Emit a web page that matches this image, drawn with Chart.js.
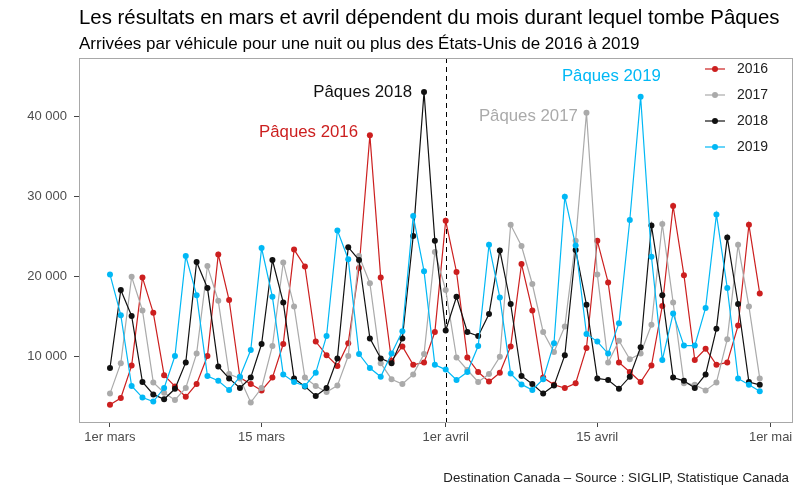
<!DOCTYPE html>
<html lang="fr">
<head>
<meta charset="utf-8">
<script src="https://cdn.jsdelivr.net/npm/chart.js@4.4.1/dist/chart.umd.min.js"></script>
<style>
  html, body { margin: 0; padding: 0; background: #fff; }
</style>
</head>
<body>
<canvas id="graphique" width="800" height="494"></canvas>
<script>
// Arrivées par véhicule, 1er mars au 30 avril (un point par jour)
const joursLabels = ['1er mars', '15 mars', '1er avril', '15 avril', '1er mai'];
const joursTicks = [0, 14, 31, 45, 61];   // jours depuis le 1er mars
const valeursTicks = [10000, 20000, 30000, 40000];

const serie2016 = [3900, 4750, 8800, 19800, 15400, 7600, 6200, 4900, 6500, 10000,
  22700, 17000, 7300, 6500, 5700, 7300, 11500, 23300, 21200, 11800,
  10100, 8750, 11600, 21000, 37600, 19800, 9400, 11200, 8900, 9200,
  13000, 26900, 20500, 9800, 8000, 6800, 7900, 11200, 21500, 15700,
  7300, 6400, 6000, 6600, 11000, 24400, 19200, 9200, 8000, 6750,
  8800, 16250, 28750, 20100, 9500, 10900, 8900, 9200, 13800, 26400, 17800];

const serie2017 = [5300, 9100, 19900, 15700, 6700, 5400, 4500, 6000, 10300, 21250,
  16900, 7750, 7200, 4200, 6000, 11250, 21700, 16200, 7300, 6250,
  5500, 6300, 10000, 22500, 19100, 9100, 7100, 6500, 7700, 10250,
  23000, 18250, 9800, 8250, 6750, 7750, 9900, 26400, 23750, 19000,
  13000, 10500, 13700, 24400, 40400, 20200, 9200, 11900, 9600, 10300,
  13900, 26500, 16700, 6600, 6400, 5700, 6700, 12100, 23900, 16200, 7200];

const serie2018 = [8500, 18250, 15000, 6750, 5200, 4600, 5900, 9200, 21750, 18500,
  8700, 7200, 6000, 7300, 11500, 22000, 16700, 7200, 6200, 5000,
  6000, 9700, 23600, 22000, 12200, 9700, 9100, 12200, 25000, 43000,
  24400, 13200, 17400, 13000, 12500, 15250, 23200, 16500, 7500, 6500,
  5300, 6300, 10100, 23250, 16400, 7200, 7000, 5900, 7400, 11100,
  26300, 17600, 7300, 6900, 6000, 7700, 13400, 24800, 16500, 6750, 6400];

const serie2019 = [20200, 15100, 6250, 4800, 4300, 6000, 10000, 22500, 17600, 7500,
  6900, 5750, 7400, 10750, 23500, 17400, 7700, 6750, 6250, 7900,
  12500, 25700, 22100, 10250, 8500, 7400, 10300, 13100, 27500, 20600,
  8900, 8300, 7000, 8000, 11250, 23900, 17300, 7800, 6450, 5750,
  7100, 11600, 29900, 23800, 12750, 11800, 10300, 14100, 27000, 42400,
  22400, 9500, 15300, 11300, 11300, 16000, 27700, 18500, 7200, 6400, 5600];

const annees = ['2016', '2017', '2018', '2019'];
const couleurs = ['#cc1f1f', '#aaaaaa', '#111111', '#00b8f5'];

// Étiquettes « Pâques » : [jour, valeur, alignement]
const paques = [
  { texte: 'Pâques 2016', jour: 22.9, valeur: 38000, align: 'right', couleur: couleurs[0] },
  { texte: 'Pâques 2017', jour: 43.2, valeur: 40000, align: 'right', couleur: couleurs[1] },
  { texte: 'Pâques 2018', jour: 27.9, valeur: 43000, align: 'right', couleur: couleurs[2] },
  { texte: 'Pâques 2019', jour: 46.3, valeur: 45000, align: 'center', couleur: couleurs[3] }
];
const jourPaquesLigne = 31;

const police = '"Liberation Sans", Arial, sans-serif';

function versPoints(serie) {
  return serie.map((v, i) => ({ x: i, y: v }));
}

function formatMilliers(v) {
  return String(v).replace(/\B(?=(\d{3})+(?!\d))/g, ' ');
}

const habillage = {
  id: 'habillage',
  beforeDatasetsDraw(chart) {
    const { ctx, chartArea, scales } = chart;
    const x = Math.round(scales.x.getPixelForValue(jourPaquesLigne)) + 0.5;
    ctx.save();
    ctx.strokeStyle = '#000';
    ctx.lineWidth = 1;
    ctx.setLineDash([5, 4]);
    ctx.beginPath();
    ctx.moveTo(x, chartArea.top);
    ctx.lineTo(x, chartArea.bottom);
    ctx.stroke();
    ctx.restore();
  },
  afterDraw(chart) {
    const { ctx, chartArea, scales } = chart;
    ctx.save();

    // cadre du panneau
    ctx.strokeStyle = '#a8a8a8';
    ctx.lineWidth = 1;
    ctx.strokeRect(chartArea.left + 0.5, chartArea.top + 0.5,
      chartArea.right - chartArea.left - 1, chartArea.bottom - chartArea.top);

    // étiquettes Pâques
    ctx.font = '16.8px ' + police;
    ctx.textBaseline = 'middle';
    paques.forEach(p => {
      ctx.fillStyle = p.couleur;
      ctx.textAlign = p.align;
      ctx.fillText(p.texte, scales.x.getPixelForValue(p.jour), scales.y.getPixelForValue(p.valeur));
    });

    // légende
    const lx = chartArea.right - 88;
    annees.forEach((a, i) => {
      const ly = chartArea.top + 11 + i * 26;
      ctx.strokeStyle = couleurs[i];
      ctx.lineWidth = 1.2;
      ctx.beginPath();
      ctx.moveTo(lx, ly);
      ctx.lineTo(lx + 20, ly);
      ctx.stroke();
      ctx.fillStyle = couleurs[i];
      ctx.beginPath();
      ctx.arc(lx + 10, ly, 3, 0, Math.PI * 2);
      ctx.fill();
      ctx.fillStyle = '#222';
      ctx.textAlign = 'left';
      ctx.font = '14px ' + police;
      ctx.fillText(a, lx + 32, ly);
    });

    // titres
    ctx.fillStyle = '#000';
    ctx.textAlign = 'left';
    ctx.font = '20.4px ' + police;
    ctx.fillText('Les résultats en mars et avril dépendent du mois durant lequel tombe Pâques', chartArea.left, 18);
    ctx.font = '17px ' + police;
    ctx.fillText('Arrivées par véhicule pour une nuit ou plus des États-Unis de 2016 à 2019', chartArea.left, 44);

    // source
    ctx.fillStyle = '#222';
    ctx.textAlign = 'right';
    ctx.font = '13.3px ' + police;
    ctx.fillText('Destination Canada – Source : SIGLIP, Statistique Canada', 789, 478);
    ctx.restore();
  }
};

const series = [serie2016, serie2017, serie2018, serie2019];

new Chart(document.getElementById('graphique'), {
  type: 'line',
  data: {
    datasets: series.map((s, i) => ({
      label: annees[i],
      data: versPoints(s),
      borderColor: couleurs[i],
      backgroundColor: couleurs[i],
      borderWidth: 1.2,
      pointRadius: 3,
      pointBorderWidth: 0,
      tension: 0,
      order: 4 - i
    }))
  },
  options: {
    responsive: false,
    animation: false,
    layout: { padding: { top: 58, right: 7, left: 0, bottom: 0 } },
    plugins: {
      legend: { display: false },
      tooltip: { enabled: false },
      title: { display: false }
    },
    scales: {
      x: {
        type: 'linear',
        min: -2.86,
        max: 63.07,
        afterBuildTicks: (scale) => { scale.ticks = joursTicks.map(v => ({ value: v })); },
        afterFit: (scale) => { scale.height = 72; },
        border: { display: false },
        grid: { drawOnChartArea: false, drawTicks: true, tickLength: 5, color: '#444', tickWidth: 1 },
        ticks: {
          padding: 3,
          maxRotation: 0,
          color: '#4d4d4d',
          font: { family: police, size: 13 },
          callback: (v) => joursLabels[joursTicks.indexOf(v)]
        }
      },
      y: {
        min: 1750,
        max: 47250,
        afterBuildTicks: (scale) => { scale.ticks = valeursTicks.map(v => ({ value: v })); },
        afterFit: (scale) => { scale.width = 79; },
        border: { display: false },
        grid: { drawOnChartArea: false, drawTicks: true, tickLength: 5, color: '#444', tickWidth: 1 },
        ticks: {
          padding: 7,
          color: '#4d4d4d',
          font: { family: police, size: 13 },
          callback: (v) => formatMilliers(v)
        }
      }
    }
  },
  plugins: [habillage]
});
</script>
</body>
</html>
